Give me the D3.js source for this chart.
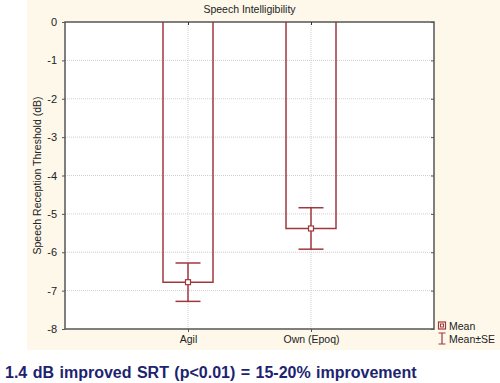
<!DOCTYPE html>
<html>
<head>
<meta charset="utf-8">
<script src="https://cdn.jsdelivr.net/npm/d3@7"></script>
<style>
    body { margin: 0; background: #ffffff; }
    svg { display: block; font-family: "Liberation Sans", Arial, sans-serif; }
</style>
</head>
<body>
<div id="chart"></div>
<script>
// data
const categories = ["Agil", "Own (Epoq)"];
const means = [-6.78, -5.38];
const stdErrs = [0.5, 0.54];
const yTicks = [0, -1, -2, -3, -4, -5, -6, -7, -8];

const width = 500;
const height = 383;
const plot = { left: 65, right: 434, top: 22, bottom: 329 };
const barColor = "#a0393f";

const svg = d3
    .select("#chart")
    .append("svg")
    .attr("width", width)
    .attr("height", height);

// cream panel behind the chart
svg.append("rect")
    .attr("x", 27)
    .attr("y", 0)
    .attr("width", width - 27)
    .attr("height", 350)
    .attr("fill", "#fdf8ea");

svg.append("rect")
    .attr("x", plot.left)
    .attr("y", plot.top)
    .attr("width", plot.right - plot.left)
    .attr("height", plot.bottom - plot.top)
    .attr("fill", "#ffffff");

// scales
const x = d3
    .scalePoint()
    .domain(categories)
    .range([plot.left, plot.right])
    .padding(1);

const y = d3
    .scaleLinear()
    .domain([0, -8])
    .range([plot.top, plot.bottom]);

// grid
svg.append("g")
    .selectAll("line")
    .data(yTicks.slice(1, -1))
    .enter()
    .append("line")
    .attr("x1", plot.left)
    .attr("x2", plot.right)
    .attr("y1", (d) => y(d))
    .attr("y2", (d) => y(d))
    .attr("stroke", "#cfcfcf")
    .attr("stroke-dasharray", "1,1");

svg.append("g")
    .selectAll("line")
    .data(categories)
    .enter()
    .append("line")
    .attr("x1", (d) => x(d))
    .attr("x2", (d) => x(d))
    .attr("y1", plot.top)
    .attr("y2", plot.bottom)
    .attr("stroke", "#cfcfcf")
    .attr("stroke-dasharray", "1,1");

// bars (open at top, drawn from 0 down to the mean)
const barW = 50;
svg.append("g")
    .selectAll("path")
    .data(categories)
    .enter()
    .append("path")
    .attr("d", (d, i) => {
        const x0 = x(d) - barW / 2, x1 = x(d) + barW / 2;
        return `M${x0},${y(0)}V${y(means[i])}H${x1}V${y(0)}`;
    })
    .attr("fill", "none")
    .attr("stroke", barColor)
    .attr("stroke-width", 1.5);

// error bars
const capW = 25;
const err = svg.append("g")
    .selectAll("g")
    .data(categories)
    .enter()
    .append("g")
    .attr("stroke", barColor)
    .attr("stroke-width", 1.5);

err.append("line")
    .attr("x1", (d) => x(d))
    .attr("x2", (d) => x(d))
    .attr("y1", (d, i) => y(means[i] + stdErrs[i]))
    .attr("y2", (d, i) => y(means[i] - stdErrs[i]));

err.append("line")
    .attr("x1", (d) => x(d) - capW / 2)
    .attr("x2", (d) => x(d) + capW / 2)
    .attr("y1", (d, i) => y(means[i] + stdErrs[i]))
    .attr("y2", (d, i) => y(means[i] + stdErrs[i]));

err.append("line")
    .attr("x1", (d) => x(d) - capW / 2)
    .attr("x2", (d) => x(d) + capW / 2)
    .attr("y1", (d, i) => y(means[i] - stdErrs[i]))
    .attr("y2", (d, i) => y(means[i] - stdErrs[i]));

err.append("rect")
    .attr("x", (d) => x(d) - 2.5)
    .attr("y", (d, i) => y(means[i]) - 2.5)
    .attr("width", 5)
    .attr("height", 5)
    .attr("fill", "#ffffff")
    .attr("stroke-width", 1.2);

// frame
svg.append("rect")
    .attr("x", plot.left)
    .attr("y", plot.top)
    .attr("width", plot.right - plot.left)
    .attr("height", plot.bottom - plot.top)
    .attr("fill", "none")
    .attr("stroke", "#555555")
    .attr("stroke-width", 1.5);

// axes
const yAxis = svg.append("g")
    .attr("transform", `translate(${plot.left},0)`)
    .call(d3.axisLeft(y).tickValues(yTicks).tickSize(3).tickPadding(5).tickFormat(d3.format("d")));
yAxis.select(".domain").remove();
yAxis.selectAll("line").attr("stroke", "#555555");
yAxis.selectAll("text")
    .style("font-size", "11px")
    .attr("fill", "#222222")
    .text((d) => (d < 0 ? "-" + Math.abs(d) : d));

const yAxisR = svg.append("g")
    .attr("transform", `translate(${plot.right},0)`)
    .call(d3.axisLeft(y).tickValues(yTicks).tickSize(3).tickFormat(""));
yAxisR.select(".domain").remove();
yAxisR.selectAll("line").attr("stroke", "#555555");

const xAxisTop = svg.append("g")
    .attr("transform", `translate(0,${plot.top})`)
    .call(d3.axisBottom(x).tickSize(3).tickFormat(""));
xAxisTop.select(".domain").remove();
xAxisTop.selectAll("line").attr("stroke", "#333333");

const xAxis = svg.append("g")
    .attr("transform", `translate(0,${plot.bottom})`)
    .call(d3.axisBottom(x).tickSize(3).tickPadding(4));
xAxis.select(".domain").remove();
xAxis.selectAll("line").attr("stroke", "#555555");
xAxis.selectAll("text")
    .style("font-size", "10.5px")
    .attr("fill", "#222222");

// title and axis label
svg.append("text")
    .attr("x", (plot.left + plot.right) / 2)
    .attr("y", 13)
    .attr("text-anchor", "middle")
    .style("font-size", "10.5px")
    .attr("fill", "#222222")
    .text("Speech Intelligibility");

svg.append("text")
    .attr("transform", `translate(41,${(plot.top + plot.bottom) / 2}) rotate(-90)`)
    .attr("text-anchor", "middle")
    .style("font-size", "10.5px")
    .attr("fill", "#222222")
    .text("Speech Reception Threshold (dB)");

// legend
const lg = svg.append("g").attr("transform", "translate(442,0)");
lg.append("rect")
    .attr("x", -3.5).attr("y", 322).attr("width", 7).attr("height", 7)
    .attr("fill", "none").attr("stroke", barColor).attr("stroke-width", 1.2);
lg.append("rect")
    .attr("x", -1.5).attr("y", 324).attr("width", 3).attr("height", 3)
    .attr("fill", "none").attr("stroke", barColor).attr("stroke-width", 1);
lg.append("path")
    .attr("d", "M-3.5,333H3.5M0,333V344M-3.5,344H3.5")
    .attr("stroke", barColor).attr("stroke-width", 1.2).attr("fill", "none");
lg.append("text").attr("x", 7).attr("y", 330).style("font-size", "10.5px").attr("fill", "#222222").text("Mean");
lg.append("text").attr("x", 7).attr("y", 343).style("font-size", "10.5px").attr("fill", "#222222").text("Mean±SE");

// caption
svg.append("text")
    .attr("x", 5)
    .attr("y", 378)
    .style("font-size", "16px")
    .style("font-weight", "bold")
    .style("word-spacing", "1px")
    .attr("fill", "#1c2470")
    .text("1.4 dB improved SRT (p<0.01) = 15-20% improvement");
</script>
</body>
</html>
